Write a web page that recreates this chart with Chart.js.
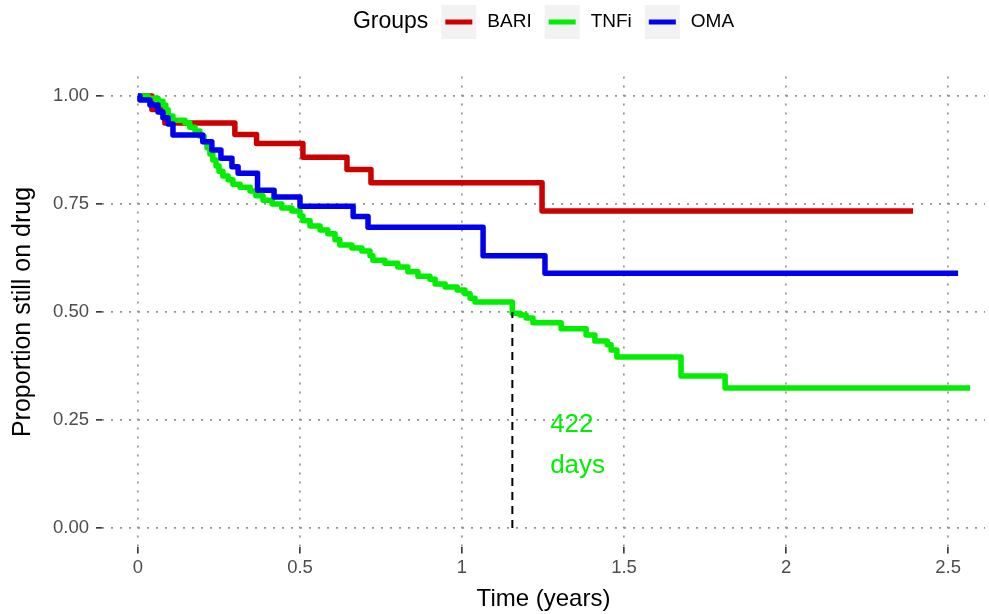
<!DOCTYPE html>
<html>
<head>
<meta charset="utf-8">
<script src="https://cdn.jsdelivr.net/npm/chart.js@4.4.1/dist/chart.umd.min.js"></script>
<style>
  html, body { margin: 0; padding: 0; background: #ffffff; }
  canvas { display: block; }
</style>
</head>
<body>
<canvas id="km" width="989" height="614"></canvas>
<script>
// Kaplan-Meier drug survival by treatment group (time in years)
const groups = ['BARI', 'TNFi', 'OMA'];
const groupColors = ['#CD0000', '#00EE00', '#0000EE'];

const bariTime = [0, 0.043, 0.083, 0.299, 0.366, 0.509, 0.645, 0.719, 1.247, 2.392];
const bariSurv = [1, 0.969, 0.9375, 0.911, 0.890, 0.858, 0.830, 0.799, 0.734, 0.734];

const tnfiTime = [0, 0.031, 0.062, 0.077, 0.086, 0.093, 0.108, 0.145, 0.160, 0.176,
                  0.191, 0.204, 0.213, 0.222, 0.231, 0.241, 0.250, 0.262, 0.278, 0.293,
                  0.315, 0.346, 0.364, 0.386, 0.414, 0.444, 0.475, 0.500, 0.509, 0.531,
                  0.562, 0.586, 0.608, 0.623, 0.660, 0.691, 0.716, 0.725, 0.762, 0.802,
                  0.833, 0.864, 0.901, 0.917, 0.948, 0.985, 1.009, 1.025, 1.040, 1.155,
                  1.179, 1.198, 1.219, 1.306, 1.383, 1.410, 1.448, 1.460, 1.478, 1.676,
                  1.812, 2.568];
const tnfiSurv = [1, 0.995, 0.988, 0.979, 0.968, 0.954, 0.944, 0.938, 0.928, 0.919,
                  0.907, 0.894, 0.880, 0.866, 0.852, 0.838, 0.826, 0.815, 0.806, 0.796,
                  0.789, 0.780, 0.769, 0.759, 0.750, 0.741, 0.734, 0.722, 0.711, 0.699,
                  0.690, 0.681, 0.667, 0.655, 0.648, 0.641, 0.630, 0.620, 0.613, 0.604,
                  0.593, 0.583, 0.576, 0.565, 0.558, 0.551, 0.542, 0.532, 0.523, 0.497,
                  0.493, 0.486, 0.475, 0.461, 0.447, 0.433, 0.424, 0.412, 0.396, 0.352,
                  0.324, 0.324];

const omaTime = [0, 0.006, 0.037, 0.062, 0.077, 0.093, 0.108, 0.200, 0.228, 0.256,
                 0.290, 0.309, 0.369, 0.420, 0.500, 0.664, 0.710, 1.065, 1.256, 2.531];
const omaSurv = [1, 0.991, 0.979, 0.963, 0.950, 0.935, 0.910, 0.894, 0.875, 0.856,
                 0.836, 0.821, 0.782, 0.766, 0.745, 0.721, 0.696, 0.630, 0.590, 0.590];

// Median drug survival of the TNFi group
const medianDays = 422;
const medianYears = medianDays / 365.25;
const medianLabel = ['422', 'days'];

const xTicks = [0, 0.5, 1, 1.5, 2, 2.5];
const xTickLabels = ['0', '0.5', '1', '1.5', '2', '2.5'];
const yTicks = [0, 0.25, 0.5, 0.75, 1];
const yTickLabels = ['0.00', '0.25', '0.50', '0.75', '1.00'];

const FONT = '"Liberation Sans", Arial, Helvetica, sans-serif';

function toPoints(t, s) {
  return t.map((v, i) => ({ x: v, y: s[i] }));
}

function curve(label, t, s, color, order) {
  return {
    label: label,
    data: toPoints(t, s),
    borderColor: color,
    backgroundColor: color,
    borderWidth: 5.5,
    stepped: 'before',
    pointRadius: 0,
    pointHoverRadius: 0,
    fill: false,
    borderCapStyle: 'butt',
    borderJoinStyle: 'round',
    order: order
  };
}

// Legend drawn in the ggplot style: title, grey key boxes, line keys
const groupLegend = {
  id: 'groupLegend',
  afterDraw(chart) {
    const ctx = chart.ctx;
    const ca = chart.chartArea;
    ctx.save();
    ctx.font = '23px ' + FONT;
    const titleW = ctx.measureText('Groups').width;
    ctx.font = '19px ' + FONT;
    const labelW = groups.map(g => ctx.measureText(g).width);
    const box = 35, gapTitle = 13, gapLabel = 11, gapItem = 13;
    let total = titleW + gapTitle;
    groups.forEach((g, i) => { total += box + gapLabel + labelW[i]; });
    total += gapItem * (groups.length - 1);
    let x = (ca.left + ca.right) / 2 - total / 2;
    const cy = 22;
    ctx.textBaseline = 'middle';
    ctx.textAlign = 'left';
    ctx.fillStyle = '#000000';
    ctx.font = '23px ' + FONT;
    ctx.fillText('Groups', x, cy);
    x += titleW + gapTitle;
    groups.forEach((g, i) => {
      ctx.fillStyle = '#F2F2F2';
      ctx.fillRect(x, cy - 17, box, 34);
      ctx.strokeStyle = groupColors[i];
      ctx.lineWidth = 5;
      ctx.beginPath();
      ctx.moveTo(x + 4, cy);
      ctx.lineTo(x + box - 4, cy);
      ctx.stroke();
      x += box + gapLabel;
      ctx.fillStyle = '#000000';
      ctx.font = '19px ' + FONT;
      ctx.fillText(g, x, cy);
      x += labelW[i] + gapItem;
    });
    ctx.restore();
  }
};

// Median label placed in data coordinates next to the dashed line
const medianText = {
  id: 'medianText',
  afterDatasetsDraw(chart) {
    const ctx = chart.ctx;
    const xs = chart.scales.x, ys = chart.scales.y;
    ctx.save();
    ctx.fillStyle = groupColors[1];
    ctx.font = '26px ' + FONT;
    ctx.textAlign = 'left';
    ctx.textBaseline = 'alphabetic';
    const x = xs.getPixelForValue(1.272);
    ctx.fillText(medianLabel[0], x, ys.getPixelForValue(0.222));
    ctx.fillText(medianLabel[1], x, ys.getPixelForValue(0.127));
    ctx.restore();
  }
};

const gridStyle = {
  color: '#939393',
  lineWidth: 1.7,
  drawTicks: true,
  tickLength: 6,
  tickColor: '#333333',
  tickWidth: 1.6,
  tickBorderDash: []
};

new Chart(document.getElementById('km'), {
  type: 'line',
  data: {
    datasets: [
      {
        label: 'median',
        data: [{ x: medianYears, y: 0 }, { x: medianYears, y: 0.5 }],
        borderColor: '#000000',
        borderWidth: 2,
        borderDash: [8, 6],
        pointRadius: 0,
        fill: false,
        order: 0
      },
      curve(groups[2], omaTime, omaSurv, groupColors[2], 1),
      curve(groups[1], tnfiTime, tnfiSurv, groupColors[1], 2),
      curve(groups[0], bariTime, bariSurv, groupColors[0], 3)
    ]
  },
  options: {
    responsive: false,
    devicePixelRatio: 1,
    animation: false,
    events: [],
    layout: { padding: { top: 76.6, right: 4, bottom: 0, left: 0 } },
    plugins: {
      legend: { display: false },
      tooltip: { enabled: false },
      title: { display: false }
    },
    scales: {
      x: {
        type: 'linear',
        min: -0.111,
        max: 2.614,
        afterBuildTicks: s => { s.ticks = xTicks.map(v => ({ value: v })); },
        afterFit: s => { s.height = 614 - 547.4; },
        ticks: {
          callback: (v, i) => xTickLabels[i],
          color: '#4D4D4D',
          font: { family: FONT, size: 18.5 },
          padding: 3,
          maxRotation: 0
        },
        grid: gridStyle,
        border: { display: false, dash: [2, 7] },
        title: {
          display: true,
          text: 'Time (years)',
          color: '#000000',
          font: { family: FONT, size: 24 },
          padding: { top: 1, bottom: 0 }
        }
      },
      y: {
        type: 'linear',
        min: -0.045,
        max: 1.045,
        afterBuildTicks: s => { s.ticks = yTicks.map(v => ({ value: v })); },
        afterFit: s => { s.width = 102; },
        ticks: {
          callback: (v, i) => yTickLabels[i],
          color: '#4D4D4D',
          font: { family: FONT, size: 18.5 },
          padding: 7
        },
        grid: gridStyle,
        border: { display: false, dash: [2, 7] },
        title: {
          display: true,
          text: 'Proportion still on drug',
          color: '#000000',
          font: { family: FONT, size: 25 },
          padding: { top: 8, bottom: 0 }
        }
      }
    }
  },
  plugins: [groupLegend, medianText]
});
</script>
</body>
</html>
